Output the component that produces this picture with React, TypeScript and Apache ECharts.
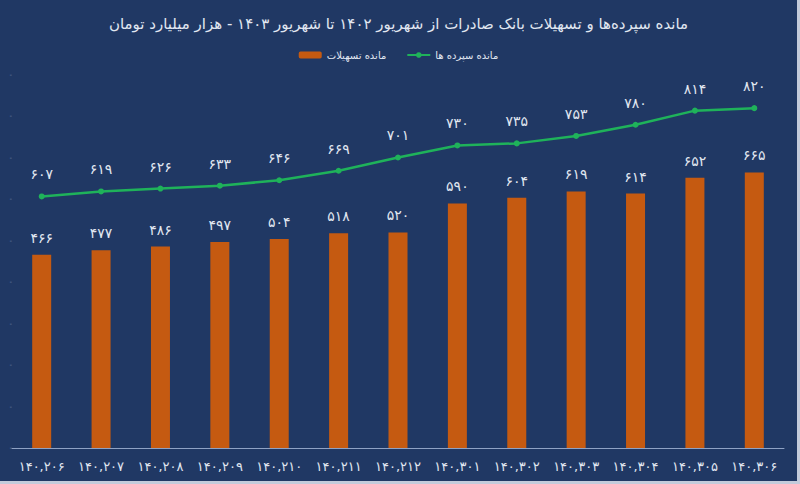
import * as echarts from "echarts";
import { useEffect, useRef } from "react";

const categories = [
  "۱۴۰,۲۰۶",
  "۱۴۰,۲۰۷",
  "۱۴۰,۲۰۸",
  "۱۴۰,۲۰۹",
  "۱۴۰,۲۱۰",
  "۱۴۰,۲۱۱",
  "۱۴۰,۲۱۲",
  "۱۴۰,۳۰۱",
  "۱۴۰,۳۰۲",
  "۱۴۰,۳۰۳",
  "۱۴۰,۳۰۴",
  "۱۴۰,۳۰۵",
  "۱۴۰,۳۰۶",
];

const loans = [466, 477, 486, 497, 504, 518, 520, 590, 604, 619, 614, 652, 665];
const deposits = [607, 619, 626, 633, 646, 669, 701, 730, 735, 753, 780, 814, 820];

const titleText =
  "مانده سپرده‌ها و تسهیلات بانک صادرات از شهریور ۱۴۰۲ تا شهریور ۱۴۰۳ - هزار میلیارد تومان";
const loansName = "مانده تسهیلات";
const depositsName = "مانده سپرده ها";

const faDigits = "۰۱۲۳۴۵۶۷۸۹";
const toFa = (n: number) => String(n).replace(/\d/g, (d) => faDigits[+d]);

const FONT = "DejaVu Sans";
const TEXT = "#e1e7f1";

export default function App() {
  const chartRef = useRef<HTMLDivElement>(null);

  useEffect(() => {
    document.body.style.margin = "0";
    let chart: echarts.ECharts | null = null;
    if (chartRef.current) {
      chart = echarts.init(chartRef.current, undefined, { renderer: "svg" });
      chart.setOption({
        animation: false,
        backgroundColor: "#203864",
        textStyle: { fontFamily: FONT },
        title: {
          text: titleText,
          left: "center",
          top: 11,
          textStyle: { color: TEXT, fontSize: 15, fontWeight: "normal", fontFamily: FONT },
        },
        legend: {
          data: [loansName, depositsName],
          top: 45,
          left: "center",
          itemWidth: 23,
          itemHeight: 7,
          itemGap: 20,
          textStyle: { color: TEXT, fontSize: 10, fontFamily: FONT },
        },
        grid: { left: 12, right: 13, top: 75, bottom: 33, containLabel: false },
        xAxis: {
          type: "category",
          data: categories,
          axisLine: { lineStyle: { color: "#8fa2c4", width: 1 } },
          axisTick: { show: false },
          axisLabel: {
            color: TEXT,
            fontSize: 13,
            margin: 12,
            interval: 0,
            fontFamily: FONT,
          },
        },
        yAxis: {
          type: "value",
          min: 0,
          max: 900,
          interval: 100,
          splitLine: { show: false },
          axisLine: { show: false },
          axisTick: { show: false },
          axisLabel: {
            margin: 0,
            formatter: () => "-",
            color: "#6f82a8",
            fontSize: 7,
          },
        },
        series: [
          {
            name: loansName,
            type: "bar",
            data: loans,
            barWidth: 19,
            itemStyle: { color: "#c55a11" },
            label: {
              show: true,
              position: "top",
              distance: 10,
              color: TEXT,
              fontSize: 14,
              fontFamily: FONT,
              formatter: (p: any) => toFa(p.value),
            },
          },
          {
            name: depositsName,
            type: "line",
            data: deposits,
            symbol: "circle",
            symbolSize: 6,
            lineStyle: { color: "#1fb25a", width: 2.5 },
            itemStyle: { color: "#1fb25a" },
            label: {
              show: true,
              position: "top",
              distance: 12,
              color: TEXT,
              fontSize: 14,
              fontFamily: FONT,
              formatter: (p: any) => toFa(p.value),
            },
          },
        ],
      });
    }
    return () => {
      if (chart) chart.dispose();
    };
  }, []);

  return (
    <div
      style={{
        width: 800,
        height: 484,
        background: "#c3cbdb",
        boxSizing: "border-box",
        paddingRight: 3,
        paddingBottom: 3,
      }}
    >
      <div ref={chartRef} style={{ width: 797, height: 481 }} />
    </div>
  );
}
